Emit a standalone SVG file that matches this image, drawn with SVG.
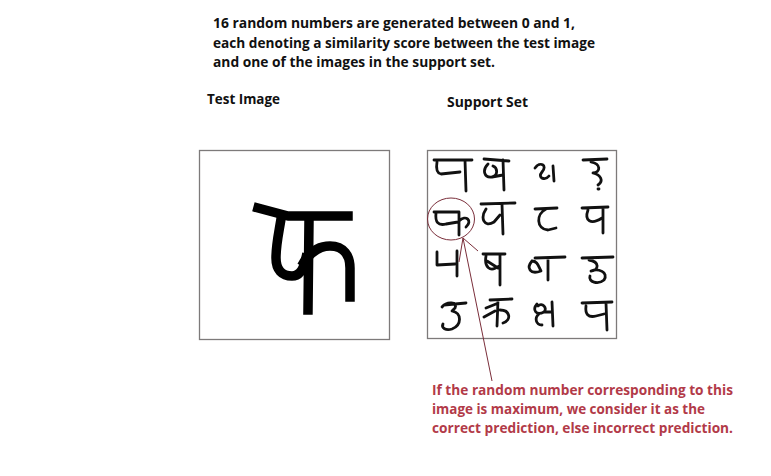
<svg xmlns="http://www.w3.org/2000/svg" width="771" height="476" viewBox="0 0 771 476">
<style>
.t{font-family:"Open Sans",Lato,"Liberation Sans",sans-serif;font-weight:700;font-size:14px;fill:#111}
.r{font-family:"Open Sans",Lato,"Liberation Sans",sans-serif;font-weight:700;font-size:14px;fill:#b23a48}
.box{fill:#fff;stroke:#7d7a7a;stroke-width:1.3}
.hw{fill:none;stroke:#111;stroke-width:2.8;stroke-linecap:round;stroke-linejoin:round}
.big{fill:none;stroke:#000;stroke-width:9.5;stroke-linecap:square;stroke-linejoin:round}
.ann{fill:none;stroke:#7a2e3a;stroke-width:1}
</style>
<rect width="771" height="476" fill="#fff"/>
<g id="title">
<text class="t" x="213" y="28" textLength="362" lengthAdjust="spacingAndGlyphs">16 random numbers are generated between 0 and 1,</text>
<text class="t" x="213" y="48" textLength="382" lengthAdjust="spacingAndGlyphs">each denoting a similarity score between the test image</text>
<text class="t" x="213" y="67" textLength="282" lengthAdjust="spacingAndGlyphs">and one of the images in the support set.</text>
</g>
<g id="test-image">
<text class="t" x="207" y="104" textLength="73" lengthAdjust="spacingAndGlyphs">Test Image</text>
<rect class="box" x="199.5" y="150.5" width="190" height="189"/>
<path class="big" d="M258,208 L288,216 L348,216"/>
<path class="big" d="M281,219 C279,232 276,244 276,258 C276,270 282,276 292,276 C300,276 304,268 306,258"/>
<path class="big" d="M309,221 L308,310"/>
<path class="big" d="M304,262 C310,252 318,246 330,246 C344,246 350,256 350,268 L350,297"/>
</g>
<g id="support-set">
<text class="t" x="447" y="107" textLength="81" lengthAdjust="spacingAndGlyphs">Support Set</text>
<rect class="box" x="427.5" y="150.5" width="189" height="188"/>
<path class="hw" d="M434,160 L472,160 M437,162 C436,168 436,173 441,174 L460,172 M465,160 L466,191"/>
<path class="hw" d="M484,159 L509,161 M488,164 C482,170 484,178 492,177 C498,176 498,168 493,166 M492,177 L503,175 M503,160 L504,190"/>
<path class="hw" d="M535,168 C540,161 548,165 542,172 C537,178 545,181 549,176 M553,166 L554,181"/>
<path class="hw" d="M583,160 L607,159 M591,162 C601,164 601,172 593,173 C601,175 604,181 598,185 M598,189 L599,189"/>
<path class="hw" d="M434,212 L459,212 M436,213 C435,222 438,226 446,224 L458,222 M459,212 L459,235 M459,221 C466,214 473,221 466,227"/>
<path class="hw" d="M481,204 L515,203 M486,209 C480,218 484,228 494,222 L500,215 M502,204 L503,234"/>
<path class="hw" d="M535,209 L557,208 M546,209 C536,214 536,229 548,230 L556,228"/>
<path class="hw" d="M582,208 L608,207 M588,210 C584,221 591,225 602,218 M603,208 L603,233"/>
<path class="hw" d="M437,252 L437,265 L455,264 M457,251 L457,276"/>
<path class="hw" d="M483,254 L505,254 M486,256 C484,267 490,273 499,266 M487,261 L498,268 M500,254 L500,285"/>
<path class="hw" d="M535,258 L565,257 M532,261 C526,268 530,275 541,271 C538,265 537,261 532,261 M548,258 L548,280"/>
<path class="hw" d="M582,258 L613,257 M589,260 C600,262 599,270 591,271 C598,268 609,272 604,280 C598,285 588,282 590,276"/>
<path class="hw" d="M444,305 L466,303 M442,307 C447,301 458,302 455,308 L452,311 C462,313 462,325 452,329 C446,331 441,328 443,324"/>
<path class="hw" d="M490,300 L512,299 M486,308 L496,304 M484,317 L495,311 M498,300 L497,326 M500,310 C510,310 512,320 503,323"/>
<path class="hw" d="M537,304 C532,310 536,316 544,312 C548,308 542,302 538,306 M539,314 C534,318 536,325 542,325 M544,312 L552,312 M552,302 L553,326"/>
<path class="hw" d="M582,303 L612,302 M586,306 C585,314 588,318 596,316 L604,314 M606,303 L607,330"/>
<ellipse class="ann" cx="451" cy="219" rx="23.5" ry="21"/>
</g>
<g id="connectors">
<path class="ann" d="M492,381 L463,238 M459,262 L463,238 L478,251"/>
</g>
<g id="annotation">
<text class="r" x="432" y="395" textLength="301" lengthAdjust="spacingAndGlyphs">If the random number corresponding to this</text>
<text class="r" x="432" y="414" textLength="273" lengthAdjust="spacingAndGlyphs">image is maximum, we consider it as the</text>
<text class="r" x="432" y="433" textLength="301" lengthAdjust="spacingAndGlyphs">correct prediction, else incorrect prediction.</text>
</g>
</svg>
